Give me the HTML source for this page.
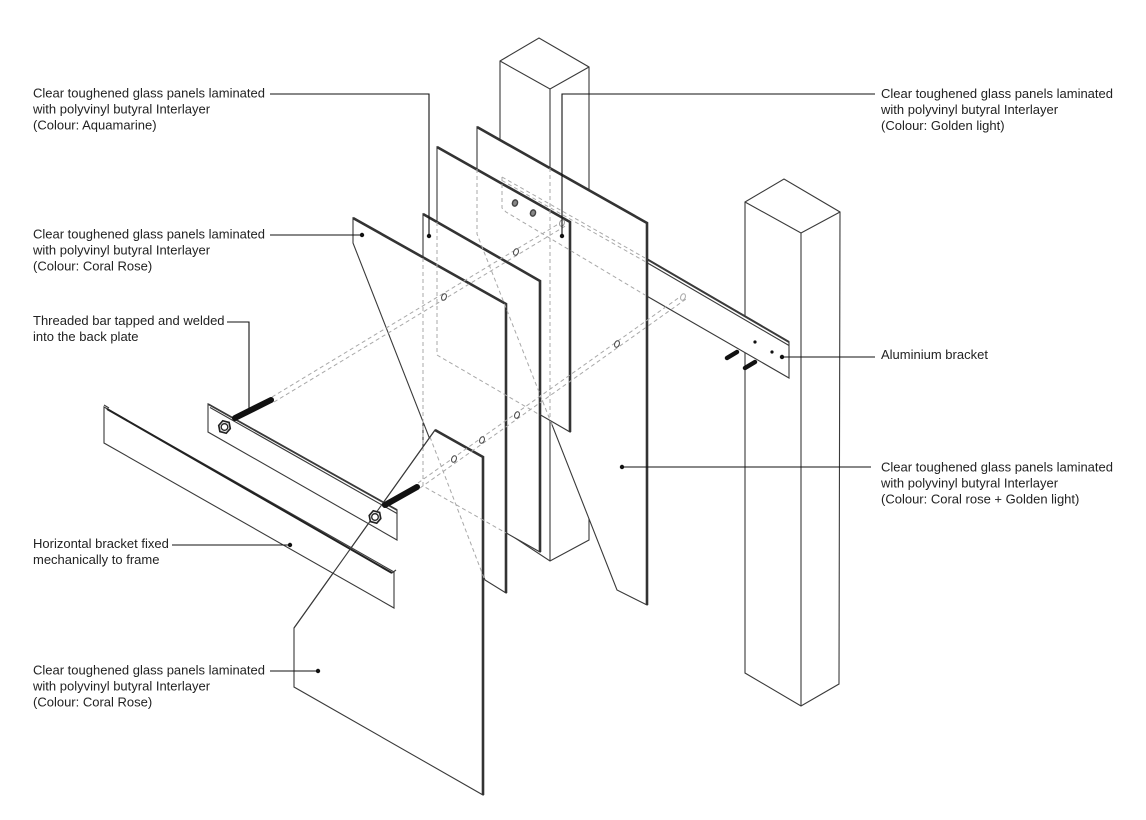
<!DOCTYPE html>
<html>
<head>
<meta charset="utf-8">
<style>
  html,body{margin:0;padding:0;background:#fff;}
  svg{display:block;}
  text{font-family:"Liberation Sans", Arial, sans-serif;font-size:13px;fill:#222;}
</style>
</head>
<body>
<svg width="1146" height="820" viewBox="0 0 1146 820" xmlns="http://www.w3.org/2000/svg">
  <rect width="1146" height="820" fill="#fff"/>

  <!-- Solid geometry (back to front) -->
  <g fill="#fff" stroke="#3a3a3a" stroke-width="1.1" stroke-linejoin="miter">
    <!-- Post 2 (right) -->
    <polygon points="745,202 784,179 840,212 839,684 801,706 745,673"/>
    <polyline points="745,202 801,233 840,212" fill="none"/>
    <line x1="801" y1="233" x2="801" y2="706"/>

    <!-- Post 1 (centre, back) -->
    <polygon points="500,61 539,38 589,67 589,540 550,561 500,528"/>
    <polyline points="500,61 550,89 589,67" fill="none"/>
    <line x1="550" y1="89" x2="550" y2="561"/>

    <!-- Aluminium bracket -->
    <polygon points="645,258 789,342 789,378 645,295"/>
    <line x1="645" y1="261.5" x2="789" y2="345.5"/>
    <line x1="645" y1="258" x2="789" y2="342" stroke-width="2"/>

    <!-- Panel E (back, golden light) -->
    <polygon points="477,127 647,223 647,605 617,590 477,234"/>
    <polyline points="477,127 647,223 647,605" fill="none" stroke-width="2.6" stroke="#333"/>

    <!-- Panel D -->
    <polygon points="437,147 570,222 570,432 437,355"/>
    <polyline points="437,147 570,222 570,432" fill="none" stroke-width="2.6" stroke="#333"/>

    <!-- Panel C -->
    <polygon points="423,214 540,281 540,552 423,486"/>
    <polyline points="423,214 540,281 540,552" fill="none" stroke-width="2.6" stroke="#333"/>

    <!-- Panel B (upper coral rose) -->
    <polygon points="353,218 506,304 506,593 485,580 353,243"/>
    <polyline points="353,218 506,304 506,593" fill="none" stroke-width="2.6" stroke="#333"/>

    <!-- Panel A (front lower coral rose) -->
    <polygon points="435,430 483,457 483,795 294,687 294,628"/>
    <polyline points="435,430 483,457 483,795" fill="none" stroke-width="2.6" stroke="#333"/>
  </g>

  <!-- Hidden (dashed) lines -->
  <g fill="none" stroke="#a8a8a8" stroke-width="1" stroke-dasharray="4 3">
    <line x1="550" y1="168" x2="550" y2="419"/>
    <polyline points="477,169 477,234 552,425"/>
    <polyline points="437,222 437,355 540,415"/>
    <polyline points="423,258 423,486 506,533"/>
    <line x1="430" y1="437" x2="484" y2="578"/>
    <!-- hidden bracket part -->
    <line x1="502" y1="177" x2="645" y2="258"/>
    <line x1="502" y1="180.5" x2="645" y2="261.5"/>
    <polyline points="502,177 502,208 506,212 645,295"/>
    <!-- upper bar axis -->
    <line x1="272" y1="397" x2="565" y2="220"/>
    <line x1="274" y1="402" x2="567" y2="225"/>
    <!-- lower bar axis -->
    <line x1="418" y1="483" x2="684" y2="294"/>
    <line x1="420" y1="488" x2="686" y2="299"/>
  </g>

  <!-- Holes -->
  <g fill="#fff" stroke="#444" stroke-width="1">
    <ellipse cx="444" cy="297" rx="2.3" ry="3.4" transform="rotate(20 444 297)"/>
    <ellipse cx="516" cy="252" rx="2.3" ry="3.4" transform="rotate(20 516 252)"/>
    <ellipse cx="562" cy="223" rx="2.3" ry="3.4" transform="rotate(20 562 223)" stroke="#999"/>
    <ellipse cx="454" cy="459" rx="2.3" ry="3.4" transform="rotate(20 454 459)"/>
    <ellipse cx="482" cy="440" rx="2.3" ry="3.4" transform="rotate(20 482 440)"/>
    <ellipse cx="517" cy="415" rx="2.3" ry="3.4" transform="rotate(20 517 415)"/>
    <ellipse cx="617" cy="344" rx="2.3" ry="3.4" transform="rotate(20 617 344)"/>
    <ellipse cx="683" cy="297" rx="2.3" ry="3.4" transform="rotate(20 683 297)" stroke="#aaa"/>
    <ellipse cx="515" cy="203" rx="2.5" ry="3.2" transform="rotate(20 515 203)" fill="#888" stroke="#444" stroke-width="1.4"/>
    <ellipse cx="533" cy="213" rx="2.5" ry="3.2" transform="rotate(20 533 213)" fill="#888" stroke="#444" stroke-width="1.4"/>
  </g>

  <!-- Horizontal bracket & back plate -->
  <g fill="#fff" stroke="#3a3a3a" stroke-width="1.1">
    <polygon points="104,407 394,572 394,608 104,443"/>
    <line x1="107" y1="409" x2="392" y2="573" stroke-width="2" stroke="#222"/>
    <line x1="104" y1="405" x2="109" y2="408"/>
    <line x1="392" y1="573" x2="396" y2="570"/>

    <polygon points="208,404 397,510 397,540 208,432"/>
    <line x1="210" y1="407.5" x2="397" y2="513.5"/>
    <line x1="208" y1="404" x2="397" y2="510" stroke-width="1.8"/>
  </g>
  <!-- Panel A left diagonal drawn through brackets -->
  <line x1="435" y1="430" x2="294" y2="628" stroke="#3a3a3a" stroke-width="1.1"/>

  <!-- Threaded bars -->
  <g stroke="#111" stroke-width="6" stroke-linecap="round">
    <line x1="235" y1="418" x2="271" y2="400"/>
    <line x1="385" y1="505" x2="417" y2="487"/>
  </g>
  <!-- Nuts -->
  <g fill="#e4e4e4" stroke="#222" stroke-width="1.6">
    <polygon points="230.5,427 227.8,432.6 221.2,432.6 218.5,427 221.2,421.4 227.8,421.4" transform="rotate(15 224.5 427)"/>
    <circle cx="224.5" cy="427" r="3.3" fill="#fff" stroke-width="1.3"/>
    <polygon points="381,517 378.3,522.6 371.7,522.6 369,517 371.7,511.4 378.3,511.4" transform="rotate(15 375 517)"/>
    <circle cx="375" cy="517" r="3.3" fill="#fff" stroke-width="1.3"/>
  </g>

  <!-- Screws on aluminium bracket -->
  <g stroke="#111" stroke-width="4.5" stroke-linecap="round">
    <line x1="727" y1="358" x2="737" y2="352"/>
    <line x1="745" y1="368" x2="755" y2="362"/>
  </g>
  <g fill="#111">
    <circle cx="755" cy="342" r="1.6"/>
    <circle cx="772" cy="352" r="1.6"/>
  </g>

  <!-- Leaders -->
  <g fill="none" stroke="#111" stroke-width="1.1">
    <polyline points="270,94 429,94 429,236"/>
    <polyline points="875,94 562,94 562,236"/>
    <line x1="270" y1="235" x2="362" y2="235"/>
    <polyline points="227,322 249,322 249,408"/>
    <line x1="782" y1="357" x2="875" y2="357"/>
    <line x1="622" y1="467" x2="871" y2="467"/>
    <line x1="172" y1="545" x2="290" y2="545"/>
    <line x1="270" y1="671" x2="318" y2="671"/>
  </g>
  <g fill="#111">
    <circle cx="429" cy="236" r="2.2"/>
    <circle cx="562" cy="236" r="2.2"/>
    <circle cx="362" cy="235" r="2.2"/>
    <circle cx="782" cy="357" r="2.2"/>
    <circle cx="622" cy="467" r="2.2"/>
    <circle cx="290" cy="545" r="2.2"/>
    <circle cx="318" cy="671" r="2.2"/>
  </g>

  <!-- Labels left -->
  <text x="33" y="97.5">Clear toughened glass panels laminated</text>
  <text x="33" y="113.5">with polyvinyl butyral Interlayer</text>
  <text x="33" y="129.5">(Colour: Aquamarine)</text>

  <text x="33" y="238.5">Clear toughened glass panels laminated</text>
  <text x="33" y="254.5">with polyvinyl butyral Interlayer</text>
  <text x="33" y="270.5">(Colour: Coral Rose)</text>

  <text x="33" y="325">Threaded bar tapped and welded</text>
  <text x="33" y="341">into the back plate</text>

  <text x="33" y="548">Horizontal bracket fixed</text>
  <text x="33" y="564">mechanically to frame</text>

  <text x="33" y="674.5">Clear toughened glass panels laminated</text>
  <text x="33" y="690.5">with polyvinyl butyral Interlayer</text>
  <text x="33" y="706.5">(Colour: Coral Rose)</text>

  <!-- Labels right -->
  <text x="881" y="98">Clear toughened glass panels laminated</text>
  <text x="881" y="114">with polyvinyl butyral Interlayer</text>
  <text x="881" y="130">(Colour: Golden light)</text>

  <text x="881" y="359">Aluminium bracket</text>

  <text x="881" y="471.5">Clear toughened glass panels laminated</text>
  <text x="881" y="487.5">with polyvinyl butyral Interlayer</text>
  <text x="881" y="503.5">(Colour: Coral rose + Golden light)</text>
</svg>
</body>
</html>
